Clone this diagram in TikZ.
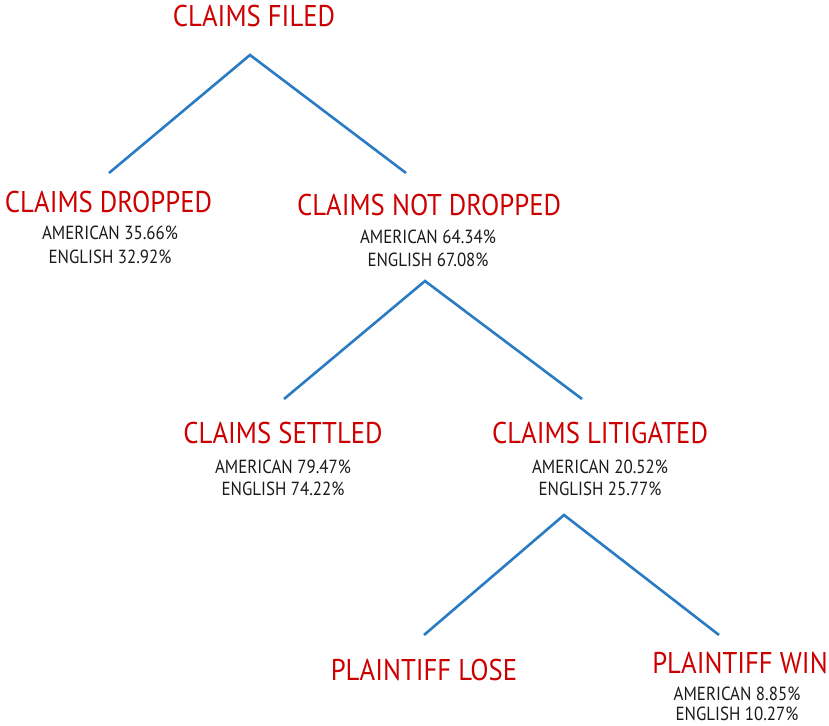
\documentclass[tikz,border=0pt]{standalone}
\usepackage{fontspec}
\setmainfont[FakeStretch=0.89]{PT Sans}
\definecolor{titred}{HTML}{CC0000}
\definecolor{subtxt}{HTML}{1A1A1A}
\definecolor{linkblue}{HTML}{2A7BC4}
\begin{document}
\begin{tikzpicture}[x=1pt,y=-1pt,
  title/.style={anchor=base,inner sep=0pt,text=titred,font=\fontsize{30}{30}\selectfont},
  sub/.style={anchor=base,inner sep=0pt,text=subtxt,font=\fontsize{19}{19}\selectfont},
  link/.style={draw=linkblue,line width=2.6pt}]
\useasboundingbox (0,0) rectangle (829,725);
% titles
\node[title] (filed) at (254,27) {CLAIMS FILED};
\node[title] (dropped) at (108.5,212) {CLAIMS DROPPED};
\node[sub] (dropA) at (110,239) {AMERICAN 35.66\%};
\node[sub] (dropE) at (110,263) {ENGLISH 32.92\%};
\node[title] (notdropped) at (429,215) {CLAIMS NOT DROPPED};
\node[sub] (ndA) at (428,243) {AMERICAN 64.34\%};
\node[sub] (ndE) at (428,266) {ENGLISH 67.08\%};
\node[title] (settled) at (283,443) {CLAIMS SETTLED};
\node[sub] (setA) at (283,473) {AMERICAN 79.47\%};
\node[sub] (setE) at (283,495) {ENGLISH 74.22\%};
\node[title] (litigated) at (600,443) {CLAIMS LITIGATED};
\node[sub] (litA) at (600,473) {AMERICAN 20.52\%};
\node[sub] (litE) at (600,495) {ENGLISH 25.77\%};
\node[title] (lose) at (424,680) {PLAINTIFF LOSE};
\node[title] (win) at (740,673) {PLAINTIFF WIN};
\node[sub] (winA) at (737,700) {AMERICAN 8.85\%};
\node[sub] (winE) at (737,720) {ENGLISH 10.27\%};
% connector points
\coordinate (a1) at (250,55);
\coordinate (l1) at (109,173);
\coordinate (r1) at (406,173);
\coordinate (a2) at (425,281);
\coordinate (l2) at (284,399);
\coordinate (r2) at (582,399);
\coordinate (a3) at (564,515);
\coordinate (l3) at (424,635);
\coordinate (r3) at (719,635);
\draw[link] (l1) -- (a1) -- (r1);
\draw[link] (l2) -- (a2) -- (r2);
\draw[link] (l3) -- (a3) -- (r3);
\end{tikzpicture}
\end{document}
